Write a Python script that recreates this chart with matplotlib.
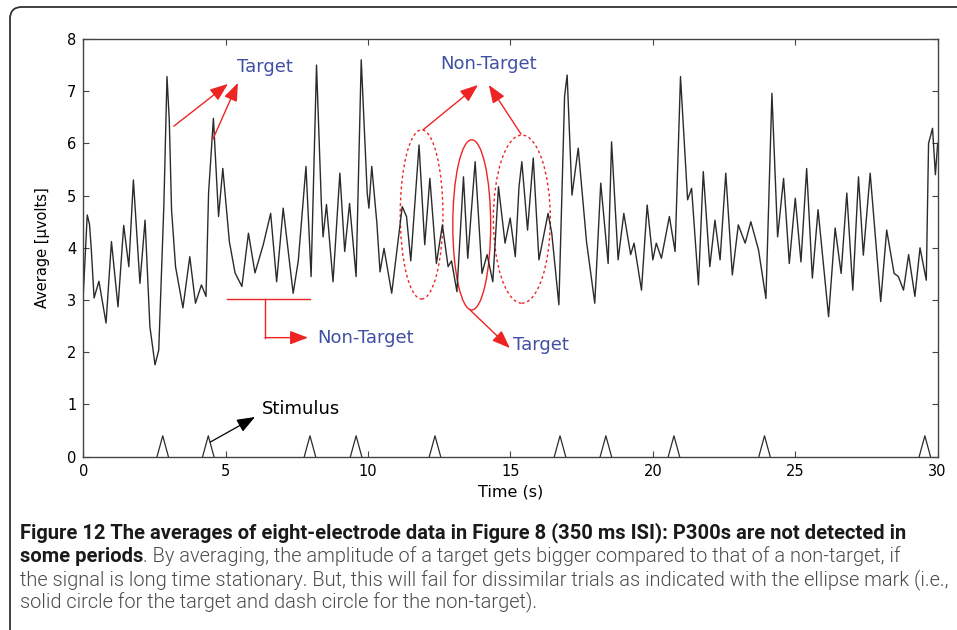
import numpy as np
import matplotlib
matplotlib.use("Agg")
import matplotlib.pyplot as plt
from matplotlib.patches import Ellipse, FancyBboxPatch
from matplotlib import font_manager

# averaged signal (time in s, amplitude in microvolts)
time_s = [0.00, 0.14, 0.22, 0.28, 0.38, 0.55, 0.80, 0.99, 1.22, 1.42, 1.60, 1.76,
          1.99, 2.17, 2.34, 2.52, 2.65, 2.83, 2.94, 3.02, 3.10, 3.24, 3.50, 3.74,
          3.94, 4.15, 4.31, 4.40, 4.57, 4.75, 4.90, 5.13, 5.33, 5.57, 5.80, 6.03,
          6.32, 6.58, 6.79, 7.02, 7.37, 7.55, 7.82, 8.00, 8.19, 8.36, 8.42, 8.54,
          8.77, 9.01, 9.18, 9.35, 9.58, 9.76, 9.97, 10.03, 10.13, 10.31, 10.42, 10.56,
          10.83, 11.20, 11.35, 11.50, 11.79, 11.99, 12.17, 12.40, 12.61, 12.81, 12.93, 13.12,
          13.35, 13.50, 13.76, 14.00, 14.18, 14.38, 14.58, 14.81, 14.99, 15.17, 15.30, 15.40,
          15.60, 15.80, 16.00, 16.32, 16.45, 16.70, 16.90, 16.99, 17.16, 17.38, 17.67, 17.96,
          18.17, 18.43, 18.55, 18.78, 18.98, 19.22, 19.34, 19.60, 19.80, 20.00, 20.12, 20.30,
          20.58, 20.78, 20.97, 21.22, 21.36, 21.60, 21.77, 22.00, 22.18, 22.36, 22.56, 22.79,
          23.00, 23.24, 23.44, 23.71, 23.97, 24.18, 24.38, 24.59, 24.79, 25.00, 25.20, 25.40,
          25.60, 25.80, 26.17, 26.40, 26.61, 26.81, 27.02, 27.22, 27.39, 27.63, 28.00, 28.21,
          28.47, 28.62, 28.80, 28.98, 29.20, 29.38, 29.60, 29.68, 29.82, 29.92, 30.00]
average_uv = [3.10, 4.63, 4.45, 3.99, 3.04, 3.36, 2.56, 4.12, 2.87, 4.43, 3.64, 5.30,
              3.32, 4.53, 2.49, 1.76, 2.04, 4.81, 7.28, 6.45, 4.73, 3.64, 2.85, 3.83,
              2.94, 3.29, 3.07, 5.05, 6.48, 4.60, 5.52, 4.12, 3.52, 3.26, 4.28, 3.52,
              4.06, 4.66, 3.35, 4.76, 3.13, 3.75, 5.56, 3.45, 7.50, 4.85, 4.21, 4.83,
              3.35, 5.43, 3.93, 4.85, 3.45, 7.60, 5.05, 4.76, 5.56, 4.47, 3.54, 3.99,
              3.13, 4.79, 4.60, 3.75, 5.97, 4.06, 5.33, 3.70, 4.44, 3.64, 3.75, 3.16,
              5.36, 3.80, 5.65, 3.51, 3.87, 3.35, 5.17, 4.09, 4.57, 3.83, 5.17, 5.65,
              4.34, 5.72, 3.77, 4.66, 4.28, 2.91, 6.90, 7.31, 5.01, 5.91, 4.12, 2.94,
              5.24, 3.70, 6.03, 3.77, 4.66, 3.87, 4.09, 3.19, 4.82, 3.77, 4.09, 3.80,
              4.60, 3.93, 7.28, 4.92, 5.14, 3.29, 5.46, 3.64, 4.53, 3.77, 5.43, 3.48,
              4.44, 4.09, 4.50, 3.96, 3.03, 6.96, 4.21, 5.33, 3.70, 4.95, 3.73, 5.52,
              3.42, 4.73, 2.68, 4.38, 3.51, 5.05, 3.19, 5.36, 3.86, 5.43, 2.97, 4.34,
              3.51, 3.45, 3.19, 3.87, 3.07, 4.00, 3.38, 6.00, 6.29, 5.40, 6.00]

# stimulus onsets (s)
stim_times = [2.79, 4.39, 7.96, 9.58, 12.35, 16.74, 18.35, 20.74, 23.92, 29.55]
stim_height = 0.4

x_ticks = [0, 5, 10, 15, 20, 25, 30]
y_ticks = [0, 1, 2, 3, 4, 5, 6, 7, 8]

RED = "#ee2424"
BLUE = "#4150a4"

fig = plt.figure(figsize=(9.57, 6.30), dpi=100)
ax = fig.add_axes([0.0870, 0.2751, 0.8928, 0.6630])

ax.plot(time_s, average_uv, color="#2b2b2b", lw=1.0)

# stimulus triangles
for s in stim_times:
    ax.plot([s - 0.2, s, s + 0.2], [0, stim_height, 0], color="#2b2b2b", lw=0.9)

ax.set_xlim(0, 30)
ax.set_ylim(0, 8)
ax.set_xticks(x_ticks)
ax.set_yticks(y_ticks)
ax.tick_params(direction="in", length=4, top=True, right=True, labelsize=10.5,
               color="#444444", pad=5)
for sp in ax.spines.values():
    sp.set_color("#444444")
    sp.set_linewidth(1.0)
ax.set_xlabel("Time (s)", fontsize=11.5, labelpad=4)
ax.set_ylabel("Average [\u03bcvolts]", fontsize=10.5, labelpad=12)

# ellipses: dashed = non-target, solid = target
ax.add_patch(Ellipse((11.88, 4.64), 1.5, 3.24, fill=False, ec=RED, lw=1.0, ls=(0, (2, 2))))
ax.add_patch(Ellipse((13.64, 4.44), 1.33, 3.26, fill=False, ec=RED, lw=1.0))
ax.add_patch(Ellipse((15.40, 4.55), 2.0, 3.22, fill=False, ec=RED, lw=1.0, ls=(0, (2, 2))))

arrow = dict(arrowstyle="-|>,head_length=1.1,head_width=0.42", color=RED, lw=1.0,
             shrinkA=0, shrinkB=0)
# top "Target" arrows
ax.annotate("", xy=(5.08, 7.14), xytext=(3.18, 6.33), arrowprops=arrow)
ax.annotate("", xy=(5.43, 7.16), xytext=(4.55, 6.08), arrowprops=arrow)
ax.text(5.4, 7.47, "Target", color=BLUE, fontsize=13, va="center")

# top "Non-Target" arrows
ax.annotate("", xy=(13.86, 7.12), xytext=(11.93, 6.26), arrowprops=arrow)
ax.annotate("", xy=(14.24, 7.12), xytext=(15.37, 6.18), arrowprops=arrow)
ax.text(12.53, 7.52, "Non-Target", color=BLUE, fontsize=13, va="center")

# lower "Target" arrow from solid ellipse
ax.annotate("", xy=(14.98, 2.08), xytext=(13.58, 2.81), arrowprops=arrow)
ax.text(15.08, 2.14, "Target", color=BLUE, fontsize=13, va="center")

# bracket for the lower "Non-Target"
ax.plot([5.03, 7.95], [3.02, 3.02], color=RED, lw=1.0)
ax.plot([6.38, 6.38], [3.02, 2.28], color=RED, lw=1.0)
ax.annotate("", xy=(7.89, 2.28), xytext=(6.38, 2.28), arrowprops=arrow)
ax.text(8.2, 2.28, "Non-Target", color=BLUE, fontsize=13, va="center")

# stimulus label
ax.annotate("", xy=(6.03, 0.76), xytext=(4.46, 0.28),
            arrowprops=dict(arrowstyle="-|>,head_length=1.1,head_width=0.42",
                            color="black", lw=0.9, shrinkA=0, shrinkB=0))
ax.text(6.27, 0.91, "Stimulus", color="black", fontsize=13, va="center")

# rounded frame around figure and caption (cut off at right/bottom like the scan)
frame = FancyBboxPatch((0.10, -0.3), 9.8, 6.23 + 0.3,
                       boxstyle="round,pad=0,rounding_size=0.12",
                       transform=fig.dpi_scale_trans, fill=False,
                       ec="#333333", lw=1.3)
fig.add_artist(frame)

# caption
names = {f.name for f in font_manager.fontManager.ttflist}
cap_font = "Roboto" if "Roboto" in names else "Liberation Sans"

cap_dark = "#1a1a1a"
cap_gray = "#4a4a4a"
W, H = 957, 630
line1 = "Figure 12 The averages of eight-electrode data in Figure 8 (350 ms ISI): P300s are not detected in"
line3 = "the signal is long time stationary. But, this will fail for dissimilar trials as indicated with the ellipse mark (i.e.,"

# fit the bold and regular font sizes to the widths in the scan
t1 = fig.text(20 / W, 1 - 538 / H, line1, fontsize=12, fontweight="bold",
              family=cap_font, color=cap_dark, va="baseline")
t3 = fig.text(20 / W, 1 - 585 / H, line3, fontsize=12, fontweight=300,
              family=cap_font, color=cap_gray, va="baseline")
fig.canvas.draw()
fs_b = min(12 * 931.0 / t1.get_window_extent().width, 14.5)
fs_r = min(12 * 928.0 / t3.get_window_extent().width, 14.5)
t1.set_fontsize(fs_b)
t3.set_fontsize(fs_r)

t2 = fig.text(20 / W, 1 - 561.5 / H, "some periods", fontsize=fs_b, fontweight="bold",
              family=cap_font, color=cap_dark, va="baseline")
ax.annotate(". By averaging, the amplitude of a target gets bigger compared to that of a non-target, if",
            xy=(1, 0), xycoords=t2, va="bottom", ha="left", fontsize=fs_r, fontweight=300,
            family=cap_font, color=cap_gray, annotation_clip=False)
fig.text(20 / W, 1 - 607 / H,
         "solid circle for the target and dash circle for the non-target).",
         fontsize=fs_r, fontweight=300, family=cap_font, color=cap_gray, va="baseline")

fig.savefig("out.png", dpi=100)
